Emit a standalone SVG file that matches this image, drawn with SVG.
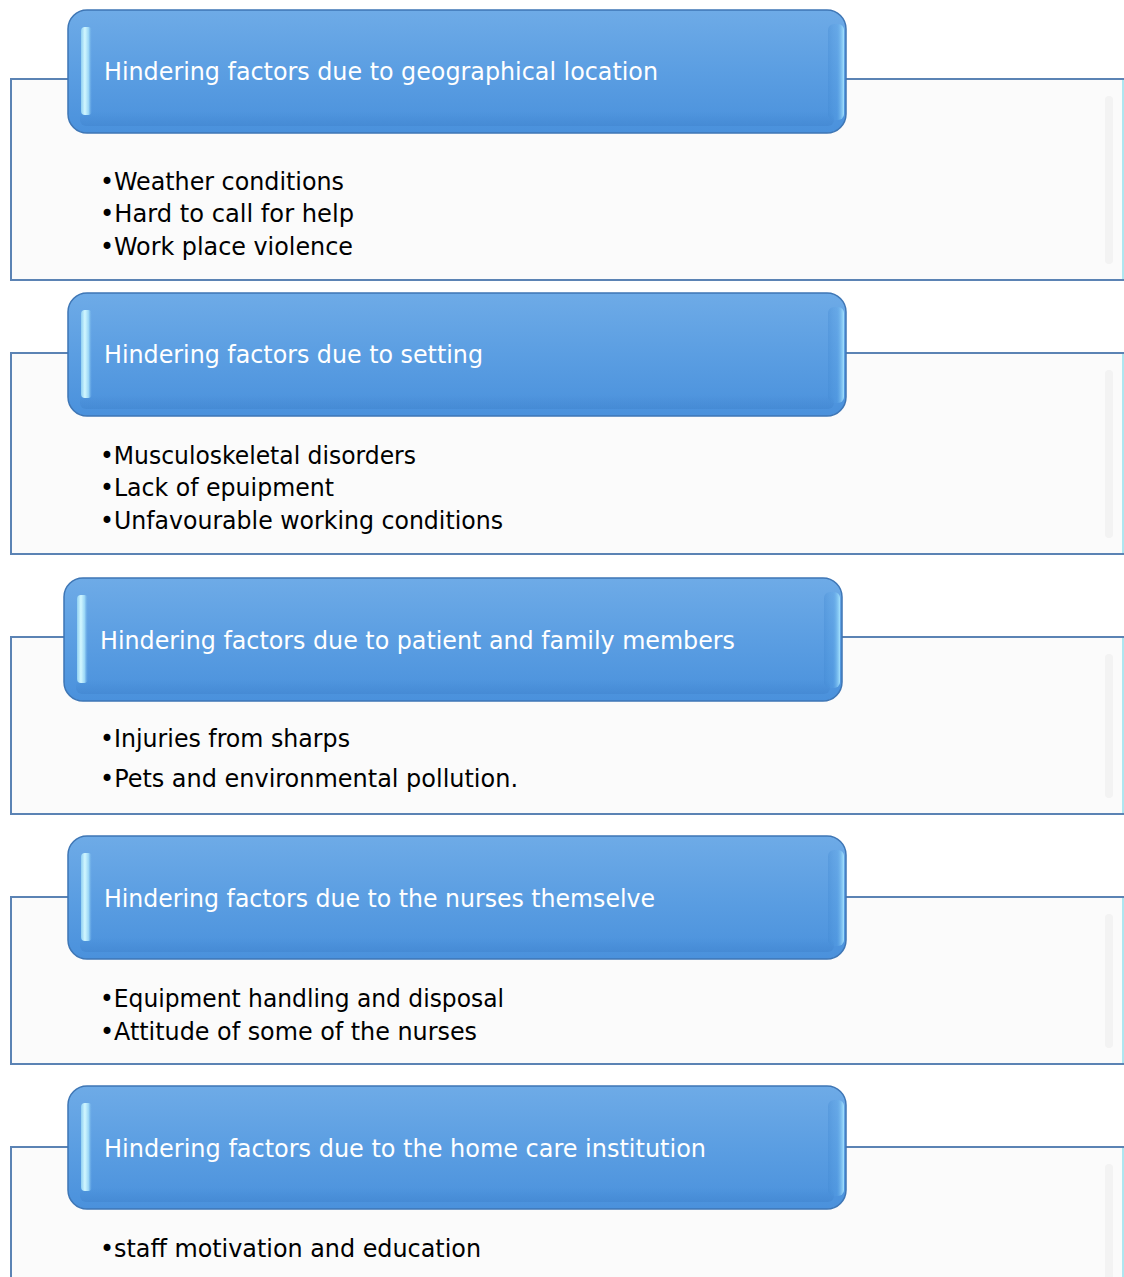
<svg xmlns="http://www.w3.org/2000/svg" width="1124" height="1277" viewBox="0 0 1124 1277">
<defs>
<linearGradient id="hdrFill" x1="0" y1="0" x2="0" y2="1">
<stop offset="0" stop-color="#6eabe7"/>
<stop offset="0.5" stop-color="#5b9ee2"/>
<stop offset="1" stop-color="#4a91dc"/>
</linearGradient>
<linearGradient id="leftHi" x1="0" y1="0" x2="1" y2="0">
<stop offset="0" stop-color="#8fd0f2"/>
<stop offset="0.35" stop-color="#d2f7ff"/>
<stop offset="0.7" stop-color="#9ad6f6"/>
<stop offset="1" stop-color="#6aaae6" stop-opacity="0"/>
</linearGradient>
<linearGradient id="rightHi" x1="0" y1="0" x2="1" y2="0">
<stop offset="0" stop-color="#3f86d0" stop-opacity="0.35"/>
<stop offset="0.55" stop-color="#5aa6e8" stop-opacity="0.2"/>
<stop offset="1" stop-color="#a8e6ff" stop-opacity="0.95"/>
</linearGradient>
<linearGradient id="bottomSh" x1="0" y1="0" x2="0" y2="1">
<stop offset="0" stop-color="#3a7cc6" stop-opacity="0"/>
<stop offset="1" stop-color="#3a7cc6" stop-opacity="0.35"/>
</linearGradient>
</defs>
<style>
.outer{fill:#fbfbfb;stroke:#5b83b4;stroke-width:2}
.redge{stroke:#aee6f0;stroke-width:2}
.strip{fill:#f3f3f3}
.hdr{fill:url(#hdrFill);stroke:#3e76b5;stroke-width:1.5}
.lhi{fill:url(#leftHi)}
.rhi{fill:url(#rightHi)}
.bsh{fill:url(#bottomSh)}
.ht{font-family:"DejaVu Sans Condensed","DejaVu Sans",sans-serif;font-size:24px;fill:#ffffff}
.bt{font-family:"DejaVu Sans Condensed","DejaVu Sans",sans-serif;font-size:25px;fill:#000000}
</style>
<rect width="1124" height="1277" fill="#ffffff"/>

<g id="section1">
<rect class="outer" x="11" y="79" width="1112" height="201"/>
<line class="redge" x1="1123" y1="80" x2="1123" y2="279"/>
<rect class="strip" x="1105" y="96" width="8" height="168" rx="4"/>
<g id="node1">
<rect class="hdr" x="68" y="10" width="778" height="123" rx="19"/>
<rect class="bsh" x="80" y="112" width="754" height="14" rx="6"/>
<rect class="rhi" x="828" y="24" width="16" height="96" rx="6"/>
<rect class="lhi" x="81" y="27" width="11" height="88" rx="4"/>
<text class="ht" x="104" y="80" textLength="554" lengthAdjust="spacingAndGlyphs">Hindering factors due to geographical location</text>
</g>
<text class="bt" x="100" y="190" textLength="244" lengthAdjust="spacingAndGlyphs">•Weather conditions</text>
<text class="bt" x="100" y="222" textLength="254" lengthAdjust="spacingAndGlyphs">•Hard to call for help</text>
<text class="bt" x="100" y="255" textLength="253" lengthAdjust="spacingAndGlyphs">•Work place violence</text>
</g>

<g id="section2">
<rect class="outer" x="11" y="353" width="1112" height="201"/>
<line class="redge" x1="1123" y1="354" x2="1123" y2="553"/>
<rect class="strip" x="1105" y="370" width="8" height="168" rx="4"/>
<g id="node2">
<rect class="hdr" x="68" y="293" width="778" height="123" rx="19"/>
<rect class="bsh" x="80" y="395" width="754" height="14" rx="6"/>
<rect class="rhi" x="828" y="307" width="16" height="96" rx="6"/>
<rect class="lhi" x="81" y="310" width="11" height="88" rx="4"/>
<text class="ht" x="104" y="363" textLength="379" lengthAdjust="spacingAndGlyphs">Hindering factors due to setting</text>
</g>
<text class="bt" x="100" y="464" textLength="316" lengthAdjust="spacingAndGlyphs">•Musculoskeletal disorders</text>
<text class="bt" x="100" y="496" textLength="234" lengthAdjust="spacingAndGlyphs">•Lack of epuipment</text>
<text class="bt" x="100" y="529" textLength="403" lengthAdjust="spacingAndGlyphs">•Unfavourable working conditions</text>
</g>

<g id="section3">
<rect class="outer" x="11" y="637" width="1112" height="177"/>
<line class="redge" x1="1123" y1="638" x2="1123" y2="813"/>
<rect class="strip" x="1105" y="654" width="8" height="144" rx="4"/>
<g id="node3">
<rect class="hdr" x="64" y="578" width="778" height="123" rx="19"/>
<rect class="bsh" x="76" y="680" width="754" height="14" rx="6"/>
<rect class="rhi" x="824" y="592" width="16" height="96" rx="6"/>
<rect class="lhi" x="77" y="595" width="11" height="88" rx="4"/>
<text class="ht" x="100" y="649" textLength="635" lengthAdjust="spacingAndGlyphs">Hindering factors due to patient and family members</text>
</g>
<text class="bt" x="100" y="747" textLength="250" lengthAdjust="spacingAndGlyphs">•Injuries from sharps</text>
<text class="bt" x="100" y="787" textLength="418" lengthAdjust="spacingAndGlyphs">•Pets and environmental pollution.</text>
</g>

<g id="section4">
<rect class="outer" x="11" y="897" width="1112" height="167"/>
<line class="redge" x1="1123" y1="898" x2="1123" y2="1063"/>
<rect class="strip" x="1105" y="914" width="8" height="134" rx="4"/>
<g id="node4">
<rect class="hdr" x="68" y="836" width="778" height="123" rx="19"/>
<rect class="bsh" x="80" y="938" width="754" height="14" rx="6"/>
<rect class="rhi" x="828" y="850" width="16" height="96" rx="6"/>
<rect class="lhi" x="81" y="853" width="11" height="88" rx="4"/>
<text class="ht" x="104" y="907" textLength="551" lengthAdjust="spacingAndGlyphs">Hindering factors due to the nurses themselve</text>
</g>
<text class="bt" x="100" y="1007" textLength="404" lengthAdjust="spacingAndGlyphs">•Equipment handling and disposal</text>
<text class="bt" x="100" y="1040" textLength="377" lengthAdjust="spacingAndGlyphs">•Attitude of some of the nurses</text>
</g>

<g id="section5">
<rect class="outer" x="11" y="1147" width="1112" height="160"/>
<line class="redge" x1="1123" y1="1148" x2="1123" y2="1277"/>
<rect class="strip" x="1105" y="1164" width="8" height="140" rx="4"/>
<g id="node5">
<rect class="hdr" x="68" y="1086" width="778" height="123" rx="19"/>
<rect class="bsh" x="80" y="1188" width="754" height="14" rx="6"/>
<rect class="rhi" x="828" y="1100" width="16" height="96" rx="6"/>
<rect class="lhi" x="81" y="1103" width="11" height="88" rx="4"/>
<text class="ht" x="104" y="1157" textLength="602" lengthAdjust="spacingAndGlyphs">Hindering factors due to the home care institution</text>
</g>
<text class="bt" x="100" y="1257" textLength="381" lengthAdjust="spacingAndGlyphs">•staff motivation and education</text>
</g>

<g id="connectors"></g>
</svg>
